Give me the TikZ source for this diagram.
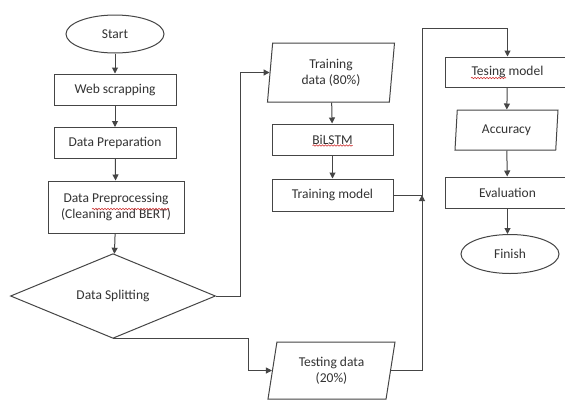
\documentclass[tikz,border=0pt]{standalone}
\usepackage{fontspec}
\setmainfont{Carlito}
\usetikzlibrary{shapes.geometric,arrows.meta,decorations.pathmorphing}
\definecolor{lncol}{HTML}{454545}
\definecolor{txcol}{HTML}{333333}
\definecolor{spell}{HTML}{D03030}
\begin{document}
\begin{tikzpicture}[x=1pt,y=-1pt,
  base/.style={draw=lncol,line width=1pt,text=txcol,font=\fontsize{13.5}{16}\selectfont,align=center,inner sep=1pt},
  procbox/.style={base,rectangle,minimum width=122pt,minimum height=31pt},
  termbox/.style={base,ellipse,minimum width=98pt,minimum height=38pt},
  iobox/.style={base,trapezium,trapezium stretches body,trapezium left angle=#1,trapezium right angle=180-#1},
  decbox/.style={base,diamond,minimum width=205pt,minimum height=75pt,inner sep=0pt},
  arr/.style={draw=lncol,line width=1pt,-{Triangle[width=6pt,length=6pt]}},
  spellline/.style={draw=spell,line width=0.6pt,decorate,decoration={snake,amplitude=0.7pt,segment length=3pt}}]
\useasboundingbox (0,0) rectangle (565,400);
\clip (0,0) rectangle (565,400);
\fill[white] (0,0) rectangle (565,400);
% column 1
\node[termbox] (start) at (115,34) {Start};
\node[procbox] (web) at (115,89.5) {Web scrapping};
\node[procbox] (prep) at (115,143) {Data Preparation};
\node[procbox,minimum width=136pt,minimum height=52pt] (preproc) at (116,207) {Data Preprocessing\\(Cleaning and BERT)};
\node[decbox] (split) at (113,296) {Data Splitting};
% column 2
\node[iobox=80,minimum width=127pt,minimum height=59pt] (train) at (331,72.5) {Training\\data (80\%)};
\node[procbox,minimum width=121pt] (bilstm) at (332.5,139.5) {BiLSTM};
\node[procbox,minimum width=121pt,minimum height=32pt] (tm) at (332.5,195) {Training model};
\node[iobox=73,minimum width=127pt,minimum height=57pt] (test) at (331.5,370.5) {Testing data\\(20\%)};
% column 3
\node[procbox,minimum width=125pt,minimum height=30pt] (tmodel) at (507.5,72) {Tesing model};
\node[iobox=80,minimum width=103pt,minimum height=40pt] (acc) at (506.5,130) {Accuracy};
\node[procbox,minimum width=125pt,minimum height=31pt] (eval) at (507.5,192.5) {Evaluation};
\node[termbox,minimum height=39pt] (finish) at (510,254) {Finish};
% spell-check underlines
\draw[spellline] ([xshift=-24pt,yshift=-2pt]preproc.center) -- ([xshift=53pt,yshift=-2pt]preproc.center);
\draw[spellline] ([xshift=-20pt,yshift=-6pt]bilstm.center) -- ([xshift=20pt,yshift=-6pt]bilstm.center);
\draw[spellline] ([xshift=-36.5pt,yshift=-6pt]tmodel.center) -- ([xshift=-1.5pt,yshift=-6pt]tmodel.center);
% helper coordinates
\coordinate (tx) at (240,0);
\coordinate (bx) at (248,0);
\coordinate (jx) at (422,0);
\coordinate (ty) at (0,28);
% connectors
\draw[arr] (start) -- (web);
\draw[arr] (web) -- (prep);
\draw[arr] (prep) -- (preproc);
\draw[arr] (preproc) -- (split);
\draw[arr] (split.east) -- (split.east -| tx) |- (train.west);
\draw[arr] (split.south) -- (split.south -| bx) |- (test.west);
\draw[arr] (train) -- (bilstm);
\draw[arr] (bilstm) -- (tm);
\draw[arr] (test.east) -- (test.east -| jx) -- (tm.east -| jx);
\draw[arr] (tm.east) -- (tm.east -| jx) -- (jx |- ty) -| (tmodel.north);
\draw[arr] (tmodel) -- (acc);
\draw[arr] (acc) -- (eval);
\draw[arr] (eval.south) -- (eval.south |- finish.north);
\end{tikzpicture}
\end{document}
